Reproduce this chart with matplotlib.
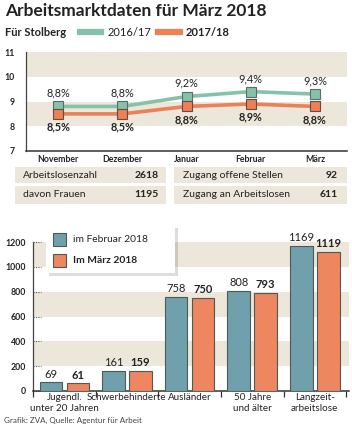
import matplotlib
matplotlib.use("Agg")
import matplotlib.pyplot as plt
from matplotlib.patches import Rectangle
from matplotlib.lines import Line2D
import matplotlib.transforms as mtransforms

plt.rcParams['font.family'] = ['Lato', 'DejaVu Sans']

# ---------------- data ----------------
months = ["November", "Dezember", "Januar", "Februar", "März"]
rate_1617 = [8.8, 8.8, 9.2, 9.4, 9.3]
rate_1718 = [8.5, 8.5, 8.8, 8.9, 8.8]
line_yticks = [7, 8, 9, 10, 11]

table_left = [("Arbeitslosenzahl", "2618"), ("davon Frauen", "1195")]
table_right = [("Zugang offene Stellen", "92"), ("Zugang an Arbeitslosen", "611")]

groups = ["Jugendl.\nunter 20 Jahren", "Schwerbehinderte", "Ausländer",
          "50 Jahre\nund älter", "Langzeit-\narbeitslose"]
feb_2018 = [69, 161, 758, 808, 1169]
mar_2018 = [61, 159, 750, 793, 1119]
bar_yticks = [0, 200, 400, 600, 800, 1000, 1200]

series_names = ["2016/17", "2017/18"]
bar_names = ["im Februar 2018", "Im März 2018"]

# ---------------- style ----------------
W, H = 352, 430
GREEN = "#86c2aa"
ORANGE = "#ec8158"
TEAL = "#6fa0ab"
BORANGE = "#ee8660"
BEIGE = "#ede6da"
DARK = "#222222"
EDGE = "#4d5a58"

fig = plt.figure(figsize=(W / 100, H / 100), dpi=100)


def rect(l, t, r, b):
    return [l / W, 1 - b / H, (r - l) / W, (b - t) / H]


def fx(x):
    return x / W


def fy(y):
    return 1 - y / H


# title
fig.text(fx(5), fy(11), "Arbeitsmarktdaten für März 2018", fontsize=12.5,
         fontweight="bold", color=DARK, va="center", ha="left")
fig.text(fx(5), fy(32), "Für Stolberg", fontsize=8, fontweight="bold",
         color=DARK, va="center", ha="left")
fig.add_artist(Line2D([fx(80), fx(101)], [fy(32), fy(32)], color=GREEN, lw=4.5,
                      transform=fig.transFigure))
fig.text(fx(108), fy(32), series_names[0], fontsize=8, color=DARK, va="center")
fig.add_artist(Line2D([fx(158), fx(180)], [fy(32), fy(32)], color=ORANGE, lw=4.5,
                      transform=fig.transFigure))
fig.text(fx(186), fy(32), series_names[1], fontsize=8, fontweight="bold",
         color=DARK, va="center")

# ---------------- line chart ----------------
ax1 = fig.add_axes(rect(26, 52, 347, 151))
x = list(range(len(months)))
ax1.set_xlim(-0.5, len(months) - 0.5)
ax1.set_ylim(line_yticks[0], line_yticks[-1])
for lo, hi in [(8, 9), (10, 11)]:
    ax1.axhspan(lo, hi, color=BEIGE, lw=0, zorder=0)
ax1.plot(x, rate_1617, color=GREEN, lw=2.6, marker="s", ms=7,
         mfc=GREEN, mec="#55706a", mew=0.8, zorder=3)
ax1.plot(x, rate_1718, color=ORANGE, lw=2.6, marker="s", ms=7,
         mfc=ORANGE, mec="#6a4a3e", mew=0.8, zorder=3)
for xi, v in zip(x, rate_1617):
    ax1.annotate(f"{v:.1f}%".replace(".", ","), (xi, v), xytext=(0, 5.5),
                 textcoords="offset points", ha="center", va="bottom",
                 fontsize=7.8, color=DARK)
for xi, v in zip(x, rate_1718):
    ax1.annotate(f"{v:.1f}%".replace(".", ","), (xi, v), xytext=(0, -5.5),
                 textcoords="offset points", ha="center", va="top",
                 fontsize=7.8, fontweight="bold", color=DARK)
ax1.set_xticks(x)
ax1.set_xticklabels(months, fontsize=6.3, fontweight="bold", color=DARK)
ax1.set_yticks(line_yticks)
ax1.set_yticklabels([str(t) for t in line_yticks], fontsize=6.3,
                    fontweight="bold", color=DARK)
ax1.tick_params(axis="both", length=0, pad=3)
ax1.tick_params(axis="y", pad=8)
for s in ["top", "right"]:
    ax1.spines[s].set_visible(False)
ax1.spines["left"].set_color("#444444")
ax1.spines["bottom"].set_color("#333333")
ax1.spines["left"].set_linewidth(0.9)
ax1.spines["bottom"].set_linewidth(1.1)
ax1.set_facecolor("white")

# ---------------- table ----------------
rows_y = [(167, 183), (186, 204)]
for (l, r, tx, nx), data in [((15, 166, 23, 159), table_left),
                            ((174, 347, 183, 338), table_right)]:
    for (t, b), (label, num) in zip(rows_y, data):
        fig.add_artist(Rectangle((fx(l), fy(b)), (r - l) / W, (b - t) / H,
                                 color=BEIGE, lw=0, transform=fig.transFigure))
        fig.text(fx(tx), fy((t + b) / 2), label, fontsize=7.5, color=DARK,
                 va="center", ha="left")
        fig.text(fx(nx), fy((t + b) / 2), num, fontsize=7.5, color=DARK,
                 fontweight="bold", va="center", ha="right")

# ---------------- bar chart ----------------
ax2 = fig.add_axes(rect(33, 242, 349, 391))
gx = list(range(len(groups)))
sp = 62.7
c0 = 64
ax2.set_xlim((33 - c0) / sp, (349 - c0) / sp)
ax2.set_ylim(bar_yticks[0], bar_yticks[-1])
for lo, hi in [(200, 400), (600, 800), (1000, 1200)]:
    ax2.axhspan(lo, hi, color=BEIGE, lw=0, zorder=0)
bw = 22.5 / sp
off = 13.5 / sp
b1 = ax2.bar([g - off for g in gx], feb_2018, width=bw, color=TEAL,
             edgecolor=EDGE, lw=0.8, zorder=3)
b2 = ax2.bar([g + off for g in gx], mar_2018, width=bw, color=BORANGE,
             edgecolor=EDGE, lw=0.8, zorder=3)
for g, v in zip(gx, feb_2018):
    ax2.annotate(str(v), (g - off, v), xytext=(0, 2), textcoords="offset points",
                 ha="center", va="bottom", fontsize=8, color=DARK)
for g, v in zip(gx, mar_2018):
    ax2.annotate(str(v), (g + off, v), xytext=(0, 2), textcoords="offset points",
                 ha="center", va="bottom", fontsize=8, fontweight="bold",
                 color=DARK)
ax2.set_xticks(gx)
ax2.set_xticklabels([])
# category labels, one text per line so the lines can interleave
xtrans = mtransforms.blended_transform_factory(ax2.transData, fig.transFigure)
for g, lab in zip(gx, groups):
    for k, part in enumerate(lab.split("\n")):
        ax2.text(g, fy(398 + 10.5 * k), part, transform=xtrans, ha="center",
                 va="center", fontsize=7.1, color=DARK)
ax2.set_xticks([g + 0.5 for g in [-1] + gx], minor=True)
ax2.tick_params(axis="x", which="major", length=0, pad=1.5)
ax2.tick_params(axis="x", which="minor", length=4, width=0.9, color="#333333")
ax2.set_yticks(bar_yticks)
ax2.set_yticklabels([str(t) for t in bar_yticks], fontsize=6.3,
                    fontweight="bold", color=DARK)
ax2.tick_params(axis="y", length=0, pad=5)
trans = mtransforms.blended_transform_factory(ax2.transAxes, ax2.transData)
for t in bar_yticks:
    ax2.plot([0.0, 0.025], [t, t], transform=trans, color="#555555", lw=0.8,
             ls=(0, (1, 1.2)), zorder=2, clip_on=False)
for s in ["top", "right"]:
    ax2.spines[s].set_visible(False)
ax2.spines["left"].set_color("#444444")
ax2.spines["bottom"].set_color("#333333")
ax2.spines["bottom"].set_linewidth(1.1)
ax2.spines["left"].set_linewidth(0.9)
ax2.set_facecolor("white")

# legend box (drawn on figure)
lg_l, lg_t, lg_r, lg_b = 46, 225, 175, 273
fig.add_artist(Rectangle((fx(lg_l + 3), fy(lg_b + 3)), (lg_r - lg_l) / W,
                         (lg_b - lg_t) / H, color="#00000022", lw=0,
                         transform=fig.transFigure, zorder=5))
fig.add_artist(Rectangle((fx(lg_l), fy(lg_b)), (lg_r - lg_l) / W,
                         (lg_b - lg_t) / H, facecolor="white", lw=0,
                         transform=fig.transFigure, zorder=6))
for (sq_t, col, name, wt) in [(233, TEAL, bar_names[0], "normal"),
                              (254, BORANGE, bar_names[1], "bold")]:
    fig.add_artist(Rectangle((fx(53), fy(sq_t + 13)), 13 / W, 13 / H,
                             facecolor=col, edgecolor=EDGE, lw=0.8,
                             transform=fig.transFigure, zorder=7))
    fig.text(fx(73), fy(sq_t + 6.5), name, fontsize=7.4, fontweight=wt,
             color=DARK, va="center", ha="left", zorder=8)

fig.text(fx(4), fy(420), "Grafik: ZVA, Quelle: Agentur für Arbeit",
         fontsize=5.8, color="#444444", va="center", ha="left")

fig.savefig("out.png", dpi=100)
